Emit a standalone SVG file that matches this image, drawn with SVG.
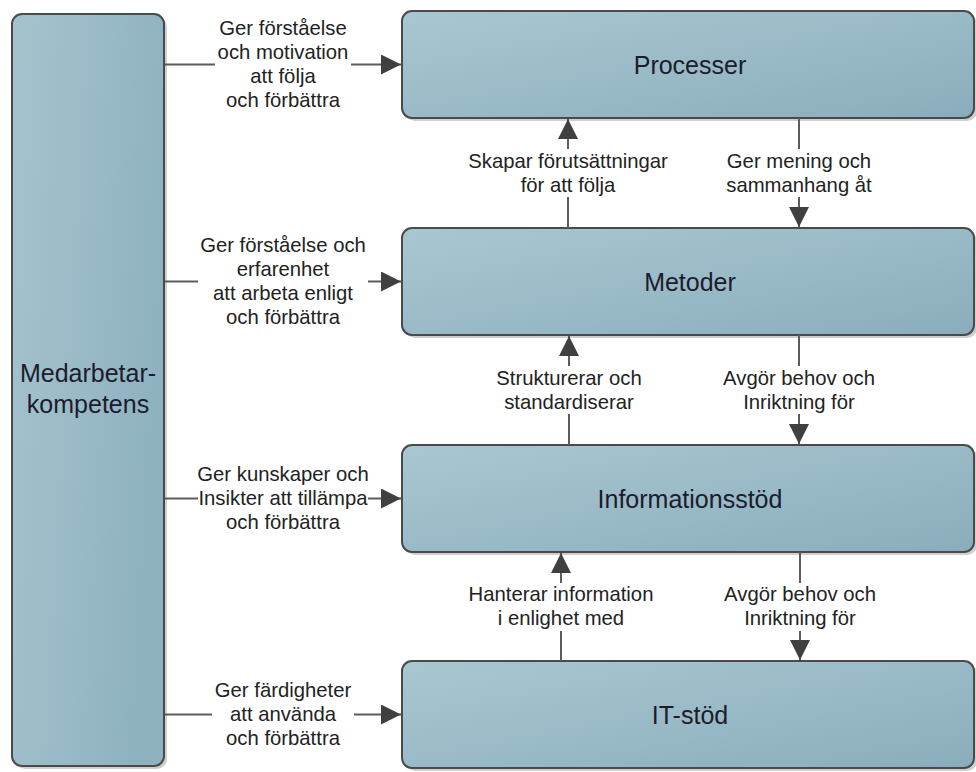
<svg xmlns="http://www.w3.org/2000/svg" width="976" height="772" viewBox="0 0 976 772">
  <defs>
    <linearGradient id="gradSide" x1="0" y1="0" x2="1" y2="0.3">
      <stop offset="0" stop-color="#a5c3cd"/>
      <stop offset="1" stop-color="#8fb2c1"/>
    </linearGradient>
    <linearGradient id="gradBox" x1="0" y1="0" x2="1" y2="1">
      <stop offset="0" stop-color="#a9c7d1"/>
      <stop offset="1" stop-color="#8aadbd"/>
    </linearGradient>
    <marker id="arrow" markerUnits="userSpaceOnUse" markerWidth="20" markerHeight="20" refX="20" refY="10" orient="auto">
      <path d="M0,0 L20,10 L0,20 z" fill="#404040"/>
    </marker>
  </defs>
  <style>
    .shadow { fill: #cfcfcf; }
    .side { fill: url(#gradSide); stroke: #4a4a4a; stroke-width: 2; }
    .box { fill: url(#gradBox); stroke: #4a4a4a; stroke-width: 2; }
    .title { font-family: "Liberation Sans", Arial, sans-serif; font-size: 25px; fill: #1c1c2c; text-anchor: middle; }
    .lbl { font-family: "Liberation Sans", Arial, sans-serif; font-size: 20.3px; fill: #222; text-anchor: middle; }
    .conn { stroke: #5c5c5c; stroke-width: 2; fill: none; marker-end: url(#arrow); }
    .bg { fill: #ffffff; }
  </style>

  <rect width="976" height="772" fill="#ffffff"/>

  <!-- nodes -->
  <g id="medarbetarkompetens">
    <rect class="shadow" x="15" y="17" width="152" height="752" rx="10"/>
    <rect class="side" x="12" y="14" width="152" height="752" rx="10"/>
    <text class="title" x="88" y="382">Medarbetar-</text>
    <text class="title" x="88" y="413">kompetens</text>
  </g>

  <g id="processer">
    <rect class="shadow" x="405" y="14" width="572" height="107" rx="10"/>
    <rect class="box" x="402" y="11" width="572" height="107" rx="10"/>
    <text class="title" x="690" y="73.5">Processer</text>
  </g>

  <g id="metoder">
    <rect class="shadow" x="405" y="231" width="572" height="107" rx="10"/>
    <rect class="box" x="402" y="228" width="572" height="107" rx="10"/>
    <text class="title" x="690" y="290.5">Metoder</text>
  </g>

  <g id="informationsstod">
    <rect class="shadow" x="405" y="448" width="572" height="107" rx="10"/>
    <rect class="box" x="402" y="445" width="572" height="107" rx="10"/>
    <text class="title" x="690" y="507.5">Informationsstöd</text>
  </g>

  <g id="it-stod">
    <rect class="shadow" x="405" y="664" width="572" height="107" rx="10"/>
    <rect class="box" x="402" y="661" width="572" height="107" rx="10"/>
    <text class="title" x="690" y="723.5">IT-stöd</text>
  </g>

  <!-- connectors -->
  <g id="connectors">
    <!-- from Medarbetarkompetens to each layer -->
    <line class="conn" x1="165" y1="64.5" x2="401" y2="64.5"/>
    <rect class="bg" x="215" y="14" width="136" height="100"/>
    <text class="lbl" x="283" y="35">Ger förståelse</text>
    <text class="lbl" x="283" y="59">och motivation</text>
    <text class="lbl" x="283" y="83">att följa</text>
    <text class="lbl" x="283" y="107">och förbättra</text>

    <line class="conn" x1="165" y1="281.5" x2="401" y2="281.5"/>
    <rect class="bg" x="198" y="232" width="170" height="100"/>
    <text class="lbl" x="283" y="252">Ger förståelse och</text>
    <text class="lbl" x="283" y="276">erfarenhet</text>
    <text class="lbl" x="283" y="300">att arbeta enligt</text>
    <text class="lbl" x="283" y="324">och förbättra</text>

    <line class="conn" x1="165" y1="498.5" x2="401" y2="498.5"/>
    <rect class="bg" x="198" y="462" width="170" height="72"/>
    <text class="lbl" x="283" y="481">Ger kunskaper och</text>
    <text class="lbl" x="283" y="505">Insikter att tillämpa</text>
    <text class="lbl" x="283" y="529">och förbättra</text>

    <line class="conn" x1="165" y1="714.5" x2="401" y2="714.5"/>
    <rect class="bg" x="212" y="678" width="142" height="72"/>
    <text class="lbl" x="283" y="697">Ger färdigheter</text>
    <text class="lbl" x="283" y="721">att använda</text>
    <text class="lbl" x="283" y="745">och förbättra</text>

    <!-- Metoder <-> Processer -->
    <line class="conn" x1="568" y1="228" x2="568" y2="119"/>
    <rect class="bg" x="464" y="149" width="208" height="48"/>
    <text class="lbl" x="568" y="167.5">Skapar förutsättningar</text>
    <text class="lbl" x="568" y="191.5">för att följa</text>

    <line class="conn" x1="799" y1="118" x2="799" y2="227"/>
    <rect class="bg" x="724" y="149" width="150" height="48"/>
    <text class="lbl" x="799" y="167.5">Ger mening och</text>
    <text class="lbl" x="799" y="191.5">sammanhang åt</text>

    <!-- Informationsstöd <-> Metoder -->
    <line class="conn" x1="569" y1="445" x2="569" y2="336"/>
    <rect class="bg" x="490" y="366" width="158" height="48"/>
    <text class="lbl" x="569" y="384.5">Strukturerar och</text>
    <text class="lbl" x="569" y="408.5">standardiserar</text>

    <line class="conn" x1="799" y1="335" x2="799" y2="444"/>
    <rect class="bg" x="718" y="366" width="162" height="48"/>
    <text class="lbl" x="799" y="384.5">Avgör behov och</text>
    <text class="lbl" x="799" y="408.5">Inriktning för</text>

    <!-- IT-stöd <-> Informationsstöd -->
    <line class="conn" x1="561" y1="661" x2="561" y2="553"/>
    <rect class="bg" x="466" y="583" width="190" height="48"/>
    <text class="lbl" x="561" y="601">Hanterar information</text>
    <text class="lbl" x="561" y="625">i enlighet med</text>

    <line class="conn" x1="800" y1="552" x2="800" y2="660"/>
    <rect class="bg" x="719" y="583" width="162" height="48"/>
    <text class="lbl" x="800" y="601">Avgör behov och</text>
    <text class="lbl" x="800" y="625">Inriktning för</text>
  </g>
</svg>
